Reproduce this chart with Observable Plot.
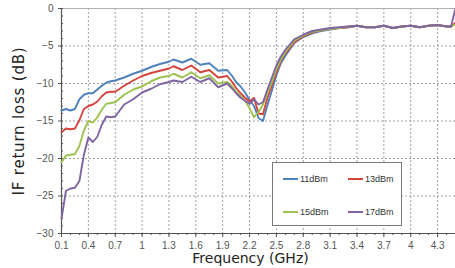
<!DOCTYPE html>
<html><head><meta charset="utf-8">
<script src="https://cdn.jsdelivr.net/npm/d3@7"></script>
<script src="https://cdn.jsdelivr.net/npm/@observablehq/plot@0.6"></script>
<style>
html,body{margin:0;padding:0;background:#fff;}
#wrap{position:relative;width:455px;height:268px;overflow:hidden;}
#legend{position:absolute;left:272px;top:162px;width:128px;height:62px;border:1px solid #7a7a7a;background:#fff;font-family:"Liberation Sans",Arial,sans-serif;font-size:9px;color:#333;}
.item{position:absolute;height:10px;display:flex;align-items:center;white-space:nowrap;}
.sw{display:inline-block;width:15px;height:2px;margin-right:2px;}
</style></head><body><div id="wrap"></div>
<script>
const freq = [0.1,0.15,0.2,0.25,0.3,0.35,0.4,0.45,0.5,0.55,0.6,0.65,0.7,0.8,0.9,1.0,1.1,1.2,1.3,
  1.35,1.45,1.55,1.65,1.75,1.85,1.95,
  2.0,2.05,2.1,2.15,2.2,2.25,2.3,2.35,2.4,2.45,2.5,2.55,2.6,
  2.7,2.8,2.9,3.0,3.1,3.2,3.3,3.4,3.5,3.6,3.7,3.8,3.9,4.0,4.1,4.2,4.3,4.4,4.45,4.5];
const s11 = [-13.6,-13.4,-13.6,-13.4,-12.1,-11.5,-11.3,-11.3,-10.8,-10.3,-9.9,-9.7,-9.6,-9.2,-8.7,-8.3,-7.8,-7.4,-7.1,
  -6.8,-7.2,-6.7,-7.5,-7.3,-8.3,-8.2,
  -8.9,-9.8,-10.4,-11.2,-12.2,-13.0,-14.6,-15.0,-12.9,-10.9,-8.9,-7.3,-6.3,
  -4.6,-3.8,-3.3,-3.0,-2.8,-2.6,-2.5,-2.3,-2.5,-2.5,-2.3,-2.6,-2.4,-2.3,-2.5,-2.3,-2.2,-2.4,-2.4,-2.0];
const s13 = [-16.5,-16.0,-16.1,-16.0,-14.9,-13.4,-13.0,-12.8,-12.4,-11.7,-11.2,-11.1,-11.1,-10.3,-9.6,-9.0,-8.6,-8.3,-8.0,
  -7.7,-8.2,-7.6,-8.5,-8.2,-9.2,-9.0,
  -9.7,-10.6,-11.3,-11.9,-12.4,-11.9,-14.0,-14.1,-11.9,-10.2,-8.5,-7.0,-6.0,
  -4.5,-3.7,-3.2,-2.9,-2.7,-2.6,-2.5,-2.3,-2.5,-2.5,-2.3,-2.6,-2.4,-2.3,-2.5,-2.3,-2.2,-2.4,-2.4,-1.9];
const s15 = [-20.5,-19.6,-19.5,-19.4,-18.3,-16.3,-15.0,-15.2,-14.5,-13.5,-12.7,-12.6,-12.5,-11.5,-10.8,-10.4,-9.7,-9.2,-9.0,
  -8.7,-9.2,-8.5,-9.3,-8.9,-10.0,-9.8,
  -10.3,-11.1,-11.7,-12.3,-13.3,-14.5,-13.8,-12.8,-11.3,-9.8,-8.1,-6.8,-5.8,
  -4.3,-3.6,-3.1,-2.9,-2.7,-2.6,-2.4,-2.3,-2.5,-2.5,-2.3,-2.6,-2.4,-2.3,-2.5,-2.3,-2.2,-2.4,-2.4,-2.1];
const s17 = [-28.0,-24.3,-24.0,-23.9,-23.0,-19.5,-17.2,-17.8,-17.1,-15.5,-14.4,-14.5,-14.4,-12.8,-12.1,-11.2,-10.7,-10.1,-9.8,
  -9.6,-9.8,-9.1,-9.8,-9.3,-10.5,-10.0,
  -10.6,-11.3,-11.9,-12.3,-12.7,-12.1,-12.8,-12.5,-10.8,-9.2,-7.6,-6.4,-5.5,
  -4.1,-3.5,-3.0,-2.8,-2.6,-2.5,-2.4,-2.3,-2.5,-2.5,-2.3,-2.6,-2.4,-2.3,-2.5,-2.3,-2.2,-2.4,-2.4,0];
const seriesNames = ["11dBm","13dBm","15dBm","17dBm"];
const seriesColors = ["#4F81BD","#D3443D","#9DC24F","#8064A2"];
const xTicks = [0.1,0.4,0.7,1,1.3,1.6,1.9,2.2,2.5,2.8,3.1,3.4,3.7,4,4.3];
const yTicks = [0,-5,-10,-15,-20,-25,-30];
const xLabel = "Frequency (GHz)";
const yLabel = "IF return loss (dB)";

const allSeries = [s11,s13,s15,s17];
const rows = [];
allSeries.forEach((vals,k)=>vals.forEach((v,i)=>rows.push({f:freq[i], v, s:seriesNames[k]})));
const minorX = d3.range(1,46).map(i=>i/10);
const minorY = d3.range(-30,1);
const fmt = d3.format("~g");

const chart = Plot.plot({
  width:455, height:268,
  marginLeft:61, marginRight:0, marginTop:8, marginBottom:35,
  style:{fontFamily:"'Liberation Sans',Arial,sans-serif", fontSize:"10px", color:"#444", background:"#fff", overflow:"visible"},
  x:{domain:[0.1,4.5]},
  y:{domain:[-30,0]},
  color:{domain:seriesNames, range:seriesColors},
  marks:[
    Plot.gridX(xTicks.slice(1), {stroke:"#a0a0a0", strokeOpacity:1, strokeDasharray:"2,2"}),
    Plot.gridY(yTicks.slice(1,-1), {stroke:"#a0a0a0", strokeOpacity:1, strokeDasharray:"2,2"}),
    Plot.frame({stroke:"#b0b0b0"}),
    Plot.axisX(minorX, {tickSize:2, text:null, label:null, stroke:"#555"}),
    Plot.axisX(xTicks, {tickSize:4, tickPadding:4, tickFormat:fmt, label:null, stroke:"#555", fill:"#555", fontSize:10}),
    Plot.axisY(minorY, {tickSize:-2, text:null, label:null, stroke:"#555"}),
    Plot.axisY(yTicks, {tickSize:3, tickPadding:5, tickFormat:fmt, label:null, stroke:"#555", fill:"#555", fontSize:10}),
    Plot.ruleX([0.1], {stroke:"#555", strokeWidth:1.2}),
    Plot.ruleY([-30], {stroke:"#555", strokeWidth:1.2}),
    Plot.line(rows, {x:"f", y:"v", z:"s", stroke:"s", strokeWidth:1.9}),
    Plot.text([xLabel], {frameAnchor:"bottom", dy:29, dx:-8, lineAnchor:"bottom", fontSize:14, fill:"#222", fontFamily:"'DejaVu Sans',sans-serif"}),
    Plot.text([yLabel], {frameAnchor:"left", dx:-48, rotate:-90, textAnchor:"middle", lineAnchor:"top", fontSize:15, fill:"#222", fontFamily:"'DejaVu Sans',sans-serif"})
  ]
});
const wrap = document.getElementById("wrap");
wrap.appendChild(chart);
chart.querySelectorAll("text").forEach(t => {
  if (t.textContent === yLabel) { t.setAttribute("letter-spacing", "0.8"); t.setAttribute("text-anchor", "middle"); }
});

const legend = document.createElement("div");
legend.id = "legend";
const pos = [[10,11],[75,11],[10,44],[75,44]];
seriesNames.forEach((n,i)=>{
  const it = document.createElement("div");
  it.className = "item";
  it.style.left = pos[i][0]+"px"; it.style.top = pos[i][1]+"px";
  const sw = document.createElement("span"); sw.className="sw"; sw.style.background = seriesColors[i];
  it.appendChild(sw);
  it.appendChild(document.createTextNode(n));
  legend.appendChild(it);
});
wrap.appendChild(legend);
</script></body></html>
